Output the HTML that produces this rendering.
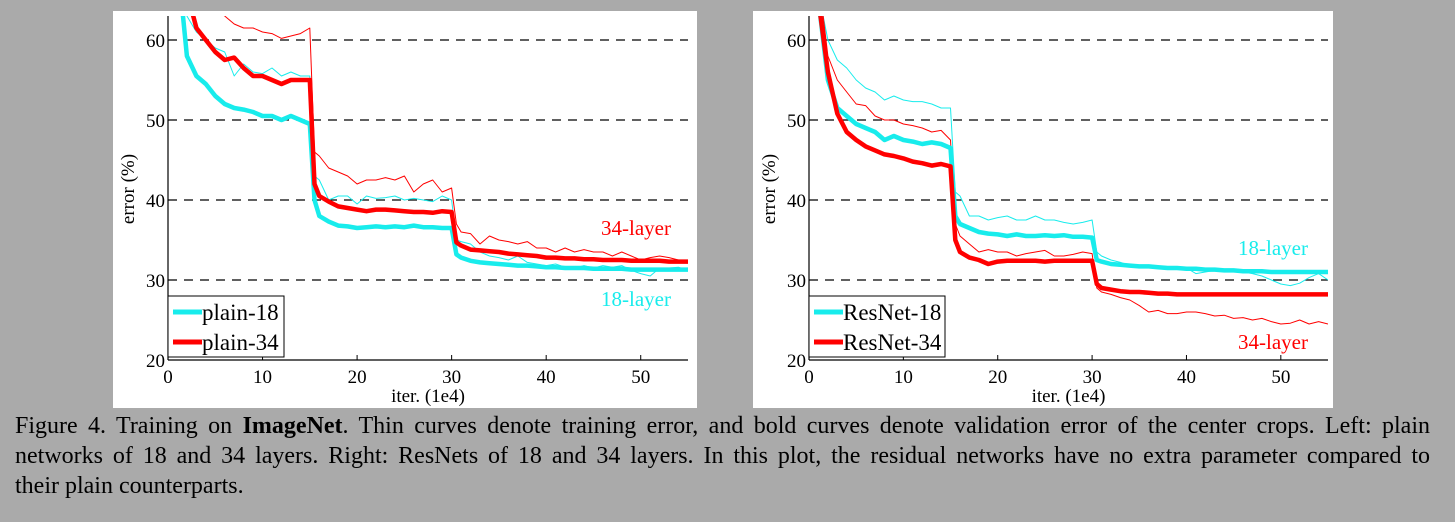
<!DOCTYPE html>
<html><head><meta charset="utf-8"><style>
body{margin:0;background:#aaaaaa;width:1455px;height:522px;overflow:hidden;position:relative;font-family:"Liberation Serif",serif}
.cl{position:absolute;left:15px;width:1415px;font-size:24px;line-height:30px;color:#000;white-space:nowrap}
.j{text-align:justify;text-align-last:justify;white-space:normal}
</style></head><body>
<svg id="fig" width="1455" height="408" style="position:absolute;left:0;top:0">
<rect x="113" y="11" width="584" height="397" fill="#fff"/>
<rect x="753" y="11" width="580" height="397" fill="#fff"/>
</svg>
<div>
<div class="cl j" style="top:411px">Figure 4. Training on <b>ImageNet</b>. Thin curves denote training error, and bold curves denote validation error of the center crops. Left: plain</div>
<div class="cl j" style="top:441px">networks of 18 and 34 layers. Right: ResNets of 18 and 34 layers. In this plot, the residual networks have no extra parameter compared to</div>
<div class="cl" style="top:471px">their plain counterparts.</div>
</div>
<script>
const iters=[1,2,3,4,5,6,7,8,9,10,11,12,13,14,15,15.5,16,17,18,19,20,21,22,23,24,25,26,27,28,29,30,30.5,31,32,33,34,35,36,37,38,39,40,41,42,43,44,45,46,47,48,49,50,51,52,53,54,55];
const yTicks=[20,30,40,50,60];
const xTicks=[0,10,20,30,40,50];
const plain18Val=[70,58,55.5,54.5,53,52,51.5,51.3,51,50.5,50.5,50,50.5,50,49.5,40,38,37.3,36.8,36.7,36.5,36.6,36.7,36.6,36.7,36.6,36.8,36.6,36.6,36.5,36.5,33.2,32.8,32.4,32.2,32.1,32,31.9,31.8,31.8,31.7,31.6,31.6,31.5,31.5,31.5,31.4,31.4,31.4,31.4,31.3,31.3,31.3,31.3,31.3,31.3,31.3];
const plain34Val=[70,66,61.5,60,58.5,57.5,57.8,56.5,55.5,55.5,55,54.5,55,55,55,42,40.5,39.8,39.2,39,38.8,38.6,38.8,38.8,38.7,38.6,38.5,38.5,38.4,38.6,38.5,34.7,34.3,33.8,33.7,33.6,33.5,33.3,33.2,33.1,33,32.8,32.8,32.7,32.7,32.6,32.6,32.5,32.5,32.5,32.4,32.4,32.4,32.4,32.3,32.3,32.3];
const plain18Train=[70,63,61,60,59,58.5,55.5,57,56,55.8,56.5,55.5,56,55.5,55.5,43,42.5,40,40.5,40.5,39.5,40.5,40.2,40.3,40.5,40,40.2,40,39.8,40.5,40,35,34.8,34.5,33.5,33,32.8,32.5,33,32.2,32,31.8,32,31.6,31.5,31.8,31.5,31.8,31.6,31.8,31.2,30.8,30.5,31.5,31.5,31.6,31.2];
const plain34Train=[75,75,72,68,65,63,62,61.5,61.5,61,60.8,60.2,60.5,60.8,61.5,46,45.5,44,43.5,43,42,42.5,42.5,42.8,42.5,43,41,42,42.5,41,41.5,37,36,35.8,34.5,35.5,35,34.8,34.5,34.8,34,34,33.5,34,33.5,33.8,33.5,33.5,33,33.5,33,32.5,32.8,33,32.8,32.5,32.5];
const res18Val=[65,55,51.5,50.5,49.5,49,48.5,47.5,48,47.5,47.3,47,47.2,47,46.5,38,37,36.5,36,35.8,35.7,35.5,35.7,35.5,35.5,35.6,35.5,35.6,35.4,35.4,35.3,32.5,32.3,32,31.9,31.8,31.7,31.7,31.6,31.5,31.5,31.4,31.4,31.3,31.3,31.2,31.2,31.1,31.1,31.1,31,31,31,31,31,31,31];
const res34Val=[65,56,50.8,48.5,47.5,46.7,46.2,45.7,45.5,45.2,44.8,44.6,44.3,44.5,44.2,35,33.5,32.8,32.5,32,32.3,32.4,32.4,32.4,32.4,32.3,32.4,32.4,32.4,32.4,32.4,29.5,29,28.8,28.6,28.5,28.5,28.4,28.3,28.3,28.2,28.2,28.2,28.2,28.2,28.2,28.2,28.2,28.2,28.2,28.2,28.2,28.2,28.2,28.2,28.2,28.2];
const res18Train=[66,60,57.5,56.5,55,54,53.5,52.5,53,52.5,52.3,52.3,52,51.5,51.5,41,40.5,38,38,37.5,37.8,38,37.5,37.5,38,37.5,37.5,37.2,37,37.2,37.5,33.5,33,32.5,32.2,31.8,31.7,31.8,31.5,31.6,31.5,31.5,30.8,31,31.2,31,31.2,31,30.8,30.5,30,29.5,29.3,29.6,30.3,30.8,30];
const res34Train=[68,58,55,53.5,52,51.8,50.5,50,50,49.5,49.3,49,48.5,48.7,47.5,37,35.5,34.5,33.5,33.8,33.5,33.5,33,33.3,33.5,33.7,33,33,33.2,33.5,33.3,29,28.5,28.2,27.8,27.5,26.8,26,26.2,25.8,25.8,26,26,25.8,25.5,25.6,25.2,25.3,25,25.2,24.8,24.5,24.6,25,24.5,24.8,24.5];
const CYAN='#18ecec',RED='#ff0000';
const svg=document.getElementById('fig');const NS='http://www.w3.org/2000/svg';
function mk(t,a,p){const e=document.createElementNS(NS,t);for(const k in a)e.setAttribute(k,a[k]);(p||svg).appendChild(e);return e;}
function panel(id,x0,x1,series,labels,legend){
  const y0=360,yTop=16;
  const sx=v=>x0+(v/55)*(x1-x0), sy=v=>y0-(v-20)*8;
  const g=mk('g',{});
  
  
  const cp=mk('clipPath',{id:id+'clip'},g);mk('rect',{x:x0,y:yTop,width:x1-x0,height:y0-yTop},cp);
  yTicks.forEach(t=>{
    if(t>20){const l=mk('line',{x1:x0,x2:x1,y1:sy(t),y2:sy(t),stroke:'#000','stroke-width':1.2,'stroke-dasharray':'9,7'},g);
    
    }
    const tx=mk('text',{x:x0-3,y:sy(t)+7,'text-anchor':'end','font-size':19},g);tx.textContent=t;
    
    
  });
  xTicks.forEach(t=>{
    mk('line',{x1:sx(t),x2:sx(t),y1:y0,y2:y0-5,stroke:'#000','stroke-width':1},g);
    const tx=mk('text',{x:sx(t),y:y0+23,'text-anchor':'middle','font-size':19},g);tx.textContent=t;
    
    
  });
  const lc=mk('g',{'clip-path':'url(#'+id+'clip)'},g);
  series.forEach(s=>{
    const d=iters.map((v,i)=>(i?'L':'M')+sx(v).toFixed(1)+','+sy(s.v[i]).toFixed(1)).join('');
    const p=mk('path',{d:d,fill:'none',stroke:s.c,'stroke-width':s.w,'stroke-linejoin':'round'},lc);
    
    
  });
  mk('line',{x1:x0,x2:x0,y1:yTop,y2:y0,stroke:'#000','stroke-width':1.2},g);
  mk('line',{x1:x0,x2:x1,y1:y0,y2:y0,stroke:'#000','stroke-width':1.2},g);
  const xl=mk('text',{x:(x0+x1)/2,y:402,'text-anchor':'middle','font-size':19},g);xl.textContent='iter. (1e4)';
  
  
  const yl=mk('text',{x:0,y:0,'text-anchor':'middle','font-size':19,transform:'translate('+(x0-34)+',189) rotate(-90)'},g);yl.textContent='error (%)';
  
  
  labels.forEach(L=>{const t=mk('text',{x:L.x,y:L.y,'text-anchor':'end','font-size':21,fill:L.c},g);t.textContent=L.t;
    
    });
  const lg=mk('g',{},g);
  
  
  mk('rect',{x:x0,y:296,width:legend.w,height:61,fill:'#fff',stroke:'#000','stroke-width':1},lg);
  legend.items.forEach((it,i)=>{const yy=312+i*30;
    mk('line',{x1:x0+5,x2:x0+34,y1:yy,y2:yy,stroke:it.c,'stroke-width':5},lg);
    const t=mk('text',{x:x0+34,y:yy+8,'font-size':23},lg);t.textContent=it.t;
    
    });
}
panel('left',168,688,[
 {n:'plain-18-train',v:plain18Train,c:CYAN,w:1},{n:'plain-34-train',v:plain34Train,c:RED,w:1},
 {n:'plain-18-val',v:plain18Val,c:CYAN,w:4.5},{n:'plain-34-val',v:plain34Val,c:RED,w:4.5}],
 [{t:'34-layer',x:671,y:235,c:RED},{t:'18-layer',x:671,y:306,c:CYAN}],
 {w:116,items:[{t:'plain-18',c:CYAN},{t:'plain-34',c:RED}]});
panel('right',809,1328,[
 {n:'resnet-18-train',v:res18Train,c:CYAN,w:1},{n:'resnet-34-train',v:res34Train,c:RED,w:1},
 {n:'resnet-18-val',v:res18Val,c:CYAN,w:4.5},{n:'resnet-34-val',v:res34Val,c:RED,w:4.5}],
 [{t:'18-layer',x:1308,y:255,c:CYAN},{t:'34-layer',x:1308,y:349,c:RED}],
 {w:136,items:[{t:'ResNet-18',c:CYAN},{t:'ResNet-34',c:RED}]});
</script>
</body></html>
